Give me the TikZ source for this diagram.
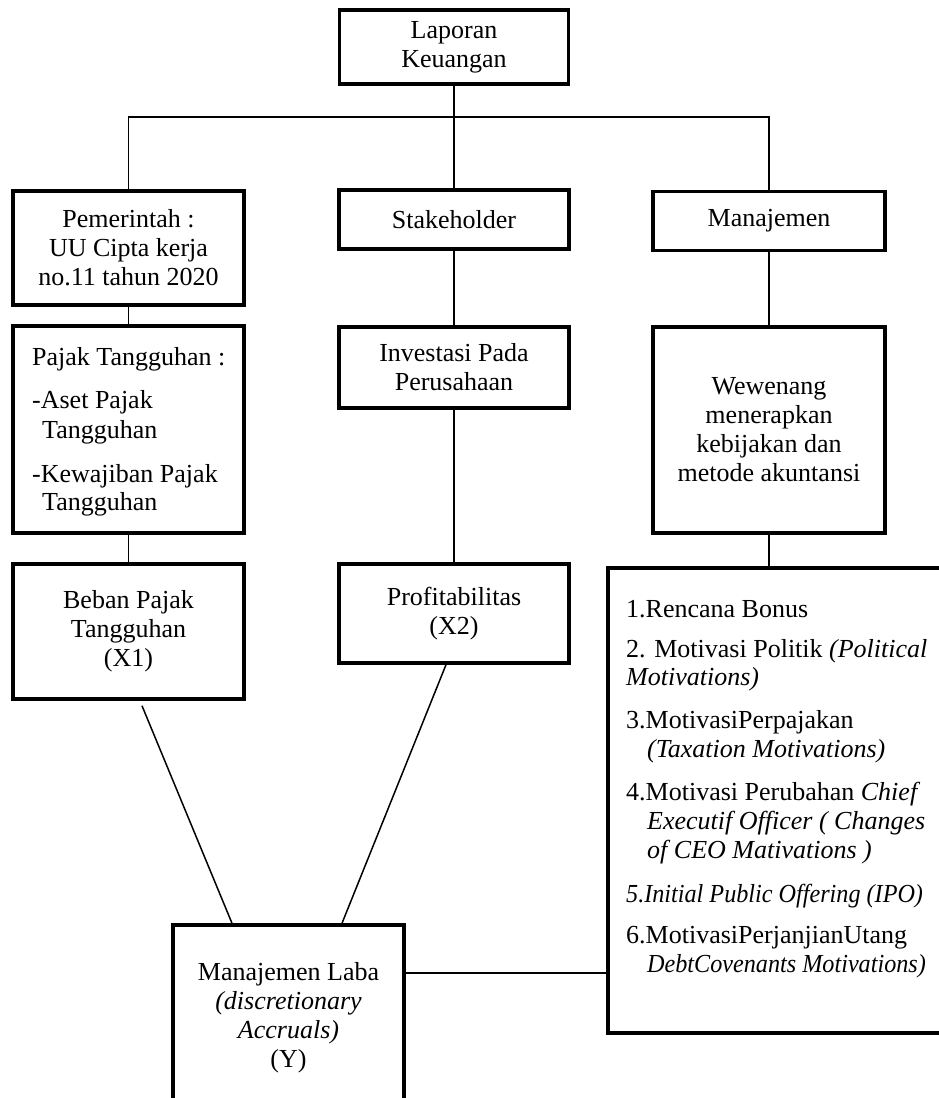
\documentclass[tikz,border=0pt]{standalone}
\usepackage{fontspec}
\setmainfont{Liberation Serif}
\usetikzlibrary{calc}
\newcommand{\fsz}{\fontsize{26}{29}\selectfont}
\tikzset{
  box/.style={draw, line width=3.5pt, rectangle, inner sep=0pt, align=center, font=\fsz},
  conn/.style={line width=1.5pt},
  txt/.style={anchor=base west, inner sep=0pt, font=\fsz},
  narrow/.style={xscale=#1, transform shape},
}
\begin{document}
\begin{tikzpicture}[x=1pt,y=-1pt]
\useasboundingbox (0,0) rectangle (939,1098);
% boxes
\node[box,minimum width=229,minimum height=74] (lap) at (454,47) {Laporan\\Keuangan};
\node[box,minimum width=231,minimum height=114] (pem) at (128.5,248) {Pemerintah :\\UU Cipta kerja\\no.11 tahun 2020};
\node[box,minimum width=230,minimum height=59] (stk) at (454,219.5) {Stakeholder};
\node[box,minimum width=232,minimum height=59] (man) at (769,221) {Manajemen};
\node[box,minimum width=231,minimum height=207] (pjk) at (128.5,429.5) {};
\node[box,minimum width=230,minimum height=81] (inv) at (454,367.5) {Investasi Pada\\Perusahaan};
\node[box,minimum width=232,minimum height=206] (wew) at (769,430) {Wewenang\\menerapkan\\kebijakan dan\\metode akuntansi};
\node[box,minimum width=231,minimum height=135] (beb) at (128.5,631.5) {Beban Pajak\\Tangguhan\\(X1)};
\node[box,minimum width=230,minimum height=99] (pro) at (454,613.5) {Profitabilitas\\(X2)};
\node[box,minimum width=337,minimum height=465] (lst) at (776.5,800.5) {};
\node[box,minimum width=231,minimum height=185] (ml) at (288.5,1017.5) {Manajemen Laba\\\textit{(discretionary}\\\textit{Accruals)}\\(Y)};
% text inside Pajak Tangguhan box
\node[txt] (p1) at (32,365) {Pajak Tangguhan :};
\node[txt] (p2) at (32,408) {-Aset Pajak};
\node[txt] (p3) at (42,438) {Tangguhan};
\node[txt] (p4) at (32,482) {-Kewajiban Pajak};
\node[txt] (p5) at (42,510) {Tangguhan};
% text inside list box
\node[txt] (l1) at (626,617) {1.Rencana Bonus};
\node[txt] (l2) at (626,657) {2. Motivasi Politik \textit{(Political}};
\node[txt] (l3) at (626,685) {\textit{Motivations)}};
\node[txt] (l4) at (626,728) {3.MotivasiPerpajakan};
\node[txt] (l5) at (647,757) {\textit{(Taxation Motivations)}};
\node[txt] (l6) at (626,800) {4.Motivasi Perubahan \textit{Chief}};
\node[txt] (l7) at (647,829) {\textit{Executif Officer ( Changes}};
\node[txt] (l8) at (647,858) {\textit{of CEO Mativations )}};
\node[txt,narrow=0.93] (l9) at (626,902) {\textit{5.Initial Public Offering (IPO)}};
\node[txt] (l10) at (626,943) {6.MotivasiPerjanjianUtang};
\node[txt,narrow=0.93] (l11) at (647,972) {\textit{DebtCovenants Motivations)}};
% connectors
\coordinate (bus) at (0,117);
\draw[conn] (pem.north) -- (pem.north |- bus) -- (man.north |- bus) -- (man.north);
\draw[conn] (lap.south) -- (stk.north);
\draw[conn] (pem.south) -- (pjk.north);
\draw[conn] (pjk.south) -- (beb.north);
\draw[conn] (stk.south) -- (inv.north);
\draw[conn] (inv.south) -- (pro.north);
\draw[conn] (man.south) -- (wew.north);
\draw[conn] (wew.south) -- (wew.south |- lst.north);
\draw[conn] ($(beb.south)+(13.5,5)$) -- ($(ml.north)+(-56.5,0)$);
\draw[conn] ($(pro.south)+(-8,0)$) -- ($(ml.north)+(53.5,0)$);
\coordinate (mlc) at ($(ml.east)+(0,-44.5)$);
\draw[conn] (mlc) -- (mlc -| lst.west);
\end{tikzpicture}
\end{document}
